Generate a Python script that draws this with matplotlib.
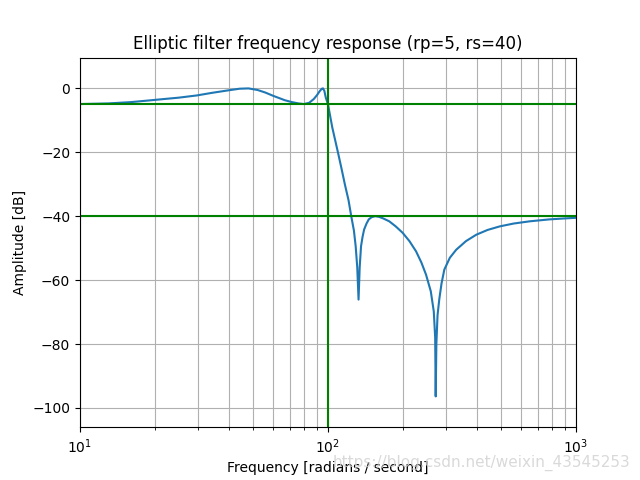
import numpy as np
import matplotlib
matplotlib.use("Agg")
import matplotlib.pyplot as plt

# ── 그림에서 읽은 값 ─────────────────────────────────────────────────────────
freq = [10, 13, 16, 18.8, 22, 25, 29.6, 34, 39.7, 44, 47.8, 52, 55.9, 60,
        63.4, 67, 71.6, 76, 80, 84, 87.7, 90.5, 92.5, 94.4, 95.5, 96.7, 97.9,
        100, 104.1, 109.8, 113.3, 117, 121, 124.1, 127.2, 129.3, 131.2, 132.8,
        134.2, 135.9, 137.8, 139.8, 143, 146, 150, 155, 160.7, 167, 176.6,
        187.6, 200, 213, 226.5, 238, 248.5, 259.7, 267, 270.5, 271.8, 273.5,
        276.5, 281, 287, 294.5, 310, 328.8, 360, 396, 440, 492, 560, 651, 780,
        900, 1000]
gain_db = [-4.9, -4.7, -4.3, -3.8, -3.3, -2.9, -2.2, -1.4, -0.6, -0.1, 0.0,
           -0.5, -1.3, -2.3, -3.0, -3.7, -4.3, -4.7, -4.9, -4.5, -3.3, -2.0,
           -0.9, -0.1, 0.0, -0.8, -2.8, -5.0, -12.3, -20.2, -25.0, -30.1,
           -35.0, -40.0, -44.5, -49.4, -56.0, -66.1, -56.0, -49.4, -46.5,
           -44.2, -42.3, -41.0, -40.3, -40.0, -40.2, -40.7, -41.6, -43.2,
           -45.2, -47.8, -51.0, -54.5, -58.3, -63.5, -69.8, -78.0, -96.4,
           -80.0, -71.0, -66.0, -61.0, -56.7, -53.0, -50.5, -47.8, -45.8,
           -44.3, -43.2, -42.3, -41.6, -41.0, -40.7, -40.5]

fig, ax = plt.subplots(figsize=(6.4, 4.8), dpi=100)
ax.semilogx(freq, gain_db)
ax.set_title("Elliptic filter frequency response (rp=5, rs=40)")
ax.set_xlabel("Frequency [radians / second]")
ax.set_ylabel("Amplitude [dB]")
ax.margins(0, 0.1)
ax.grid(which="both", axis="both")
ax.axvline(100, color="green")
ax.axhline(-40, color="green")
ax.axhline(-5, color="green")

# 워터마크 (원본 이미지에 있음)
fig.text(0.985, 0.035, "https://blog.csdn.net/weixin_43545253", ha="right",
         va="center", fontsize=11, color="#d0d0d0", alpha=0.8)

fig.savefig("out.png", dpi=100)
